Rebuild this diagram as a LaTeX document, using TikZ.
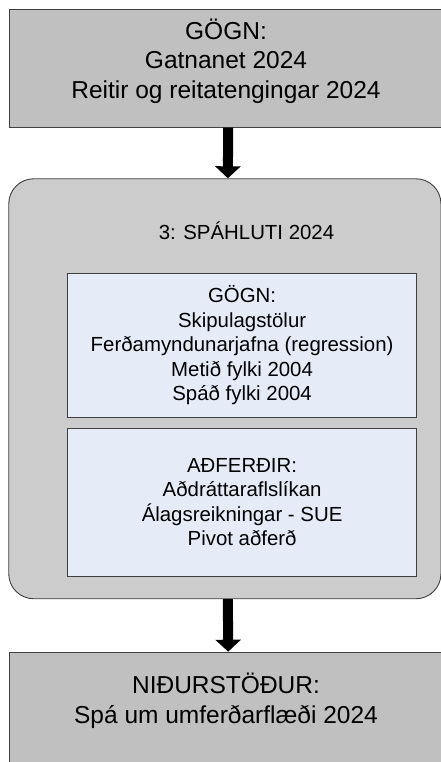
\documentclass[tikz,border=0pt]{standalone}
\usepackage{fontspec}
\setmainfont{Liberation Sans}
\usepackage{tikz}
\usetikzlibrary{arrows.meta,positioning}
\definecolor{boxgray}{RGB}{192,192,192}
\definecolor{partgray}{RGB}{204,204,204}
\definecolor{partblue}{RGB}{230,236,247}
\definecolor{edgegray}{RGB}{64,64,64}
\tikzstyle{Abox}=[draw=edgegray,line width=0.9pt,fill=boxgray,inner sep=0,anchor=north west]
\tikzstyle{Apart}=[Abox,fill=partgray,rounded corners=25pt]
\tikzstyle{Ainner}=[Abox,fill=partblue,align=center,font=\fontsize{20.4}{24.5}\selectfont]
\tikzstyle{Atext}=[align=center,font=\fontsize{24.5}{29.5}\selectfont]
\tikzstyle{Aflow}=[line width=10pt,-{Triangle[width=25pt,length=12pt]}]
\begin{document}
\begin{tikzpicture}[x=1pt,y=-1pt]
  \useasboundingbox (0,0) rectangle (441,762);

	\node[Abox,minimum width=431.5pt,minimum height=117.7pt] (gogn) at (9,9) {};
	\node[Atext] (gognt) at (226,61) {GÖGN:\\Gatnanet 2024\\Reitir og reitatengingar 2024};

	\node[Apart,minimum width=432.2pt,minimum height=420pt] (spa) at (8.3,178.3) {};
	\node[anchor=base,font=\fontsize{20.4}{24.5}\selectfont] (spat) at (246.5,239) {3: SPÁHLUTI 2024};
	\node[Ainner,minimum width=348.7pt,minimum height=144.6pt] (spagogn) at (67.3,272.7)
	  {GÖGN:\\Skipulagstölur\\Ferðamyndunarjafna (regression)\\Metið fylki 2004\\Spáð fylki 2004};
	\node[Ainner,minimum width=348.7pt,minimum height=148pt] (spaadf) at (67.3,427.7)
	  {AÐFERÐIR:\\Aðdráttaraflslíkan\\Álagsreikningar - SUE\\Pivot aðferð};

	\node[Abox,minimum width=431.5pt,minimum height=118pt] (nid) at (9,651.7) {};
	\node[Atext] (nidt) at (226,701) {NIÐURSTÖÐUR:\\Spá um umferðarflæði 2024};

	\draw[Aflow] ([xshift=3pt]gogn.south) -- ([xshift=3pt]spa.north);
	\draw[Aflow] ([xshift=3pt]spa.south) -- ([xshift=3pt]nid.north);
\end{tikzpicture}
\end{document}
